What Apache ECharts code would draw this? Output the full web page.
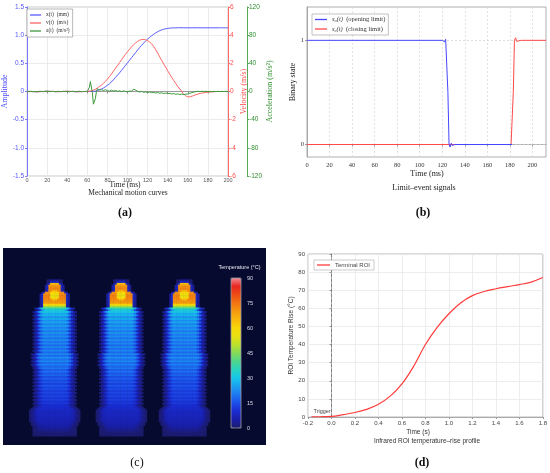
<!DOCTYPE html>
<html>
<head>
<meta charset="utf-8">
<title>Switching diagnostics</title>
<script src="https://cdn.jsdelivr.net/npm/echarts@6.0.0/dist/echarts.min.js"></script>
<style>
  html, body { margin: 0; padding: 0; background: #fff; }
  #chart { width: 550px; height: 473px; }
</style>
</head>
<body>
<div id="chart"></div>
<script>
const SERIF = '"Liberation Serif", "DejaVu Serif", serif';
const SANS = '"Liberation Sans", Arial, sans-serif';

// (a) mechanical motion curves
const dispTime = [0, 10, 20, 30, 40, 50, 60, 64, 66, 68, 70, 72, 74, 76, 78, 80, 84, 88, 92, 96, 100, 104, 108, 112, 116, 120, 124, 128, 132, 136, 140, 144, 148, 152, 160, 170, 180, 190, 200];
const dispMm = [0.003, -0.004, 0.004, -0.003, 0.003, -0.004, 0.002, 0, 0.002, 0.008, 0.018, 0.03, 0.045, 0.062, 0.085, 0.11, 0.17, 0.25, 0.33, 0.42, 0.51, 0.6, 0.69, 0.78, 0.86, 0.93, 0.99, 1.04, 1.08, 1.105, 1.12, 1.128, 1.13, 1.132, 1.13, 1.131, 1.13, 1.131, 1.13];

const velTime = [0, 10, 20, 30, 40, 50, 60, 62, 64, 66, 68, 70, 72, 74, 76, 78, 80, 84, 88, 92, 96, 100, 104, 108, 112, 115, 118, 122, 126, 130, 134, 138, 142, 146, 150, 154, 157, 160, 163, 166, 170, 175, 180, 185, 190, 200];
const velMs = [0.01, -0.015, 0.015, -0.01, 0.012, -0.012, 0.005, 0.02, 0.05, 0.1, 0.16, 0.25, 0.35, 0.46, 0.58, 0.72, 0.88, 1.25, 1.65, 2.05, 2.45, 2.83, 3.17, 3.45, 3.64, 3.7, 3.67, 3.52, 3.2, 2.72, 2.2, 1.72, 1.22, 0.78, 0.36, 0.0, -0.26, -0.38, -0.36, -0.28, -0.18, -0.1, -0.05, -0.02, 0, 0];

const accTime = [0, 2, 4, 6, 8, 10, 12, 14, 16, 18, 20, 22, 24, 26, 28, 30, 32, 34, 36, 38, 40, 42, 44, 46, 48, 50, 52, 54, 56, 58, 60,
  61, 62, 63, 64, 65, 66, 67, 68, 69, 70, 71, 72, 73, 74,
  76, 78, 80, 82, 84, 86, 88, 90, 92, 94, 96, 98, 100, 102, 104, 106, 107, 108,
  110, 112, 114, 116, 118, 120, 122, 124, 126, 128, 130, 132, 134, 136, 138, 140, 142, 144, 146, 148,
  150, 152, 154, 156, 158, 160, 162, 164, 166, 168, 170, 172, 174, 176, 178, 180, 182, 184, 186, 188, 190, 192, 194, 196, 198, 200];
const accVal = [0.2, -0.3, 0.4, -0.2, 0.1, -0.4, 0.3, 0.2, -0.3, 0.1, 0.4, -0.2, -0.1, 0.3, -0.4, 0.2, 0.1, -0.3, 0.3, -0.1, 0.2, -0.4, 0.1, 0.3, -0.2, 0.0, 0.4, -0.3, 0.1, -0.1, 0.2,
  1, 6, 14, 12, -2, -18, -20, -10, 0, 4, 3.5, 2, 3, 2.5,
  1.5, 2.5, 1.2, 0.5, 1.8, 0.6, 1.4, 0.2, 1.1, -0.2, 0.8, 0.1, -0.4, 0.6, 0.2, 3.5, 5.5, 2,
  0.3, -0.8, 0.2, -1.2, -0.5, -1.5, -0.7, -1.8, -1.1, -2.2, -1.4, -2.5, -1.8, -2.9, -2.2, -3.1, -2.6, -3.5, -3, -4,
  -3.4, -4.3, -3.6, -4.4, -3.8, -3.6, -2.5, -1.6, -0.8, -0.2, 0.3, -0.2, 0.4, -0.1, 0.3, -0.2, 0.2, -0.3, 0.3, -0.1, 0.2, -0.2, 0.3, -0.1, 0.2, 0];

// (b) limit-event signals
const openTime = [0, 120, 121, 122, 123, 124, 125, 126, 127, 128, 129, 130, 131, 182];
const openState = [1, 1, 1.01, 0.985, 1.01, 1, 0.5, 0, -0.025, 0.012, -0.01, 0.004, 0, 0];
const closeTime = [0, 181, 182, 183, 184, 185, 186, 187, 188, 189, 190, 212];
const closeState = [0, 0, 0.01, 0.5, 1, 1.025, 0.99, 1.008, 0.996, 1.003, 1, 1];

// (c) thermal image, in image cells (150 x 112)
const imgCols = 150, imgRows = 112;
const insulatorCols = [29, 67, 103];
const capRows = [[20, 2.5, 64], [21, 3, 70], [22, 3, 72], [23, 3, 72], [24, 3, 72], [25, 5.5, 71], [26, 6.5, 72], [27, 6.5, 73],
  [28, 6.5, 73], [29, 6.5, 72], [30, 6.5, 71], [31, 6.5, 68], [32, 6.5, 60], [33, 6.5, 47]];
const capCore = [[24, 1, 66], [25, 2, 60], [26, 2.5, 57], [27, 2.5, 56], [28, 2, 58], [29, 1, 64]];
const shedTemps = [37, 31, 28, 27, 26, 25, 24, 24, 23, 23, 22, 22, 22, 22, 23, 22, 21, 20, 19, 18, 17, 16, 16, 15, 14, 14, 13, 12];
const shedHalfWidths = [7.5, 8, 8, 8, 8, 8, 8, 8, 8, 8, 8, 8.5, 8.5, 9, 9.5, 9.5, 9, 8.5, 8.5, 8.5, 8, 8, 8, 8, 8, 8, 8, 8];
const baseRows = [[90, 8.5, 10], [91, 9.5, 9], [92, 10, 8.5], [93, 10, 8], [94, 10, 8], [95, 10, 7.5], [96, 10, 7], [97, 10, 7],
  [98, 10, 6.5], [99, 9.5, 6], [100, 9, 5.5], [101, 8.5, 5], [102, 8, 4]];
const edgeFade = [0.72, 0.42, 0.2, 0.08];
const capFade = [0.12, 0.05];
const gapShade = 0.84;
const rimShade = 0.88;
const tempTicks = [0, 90, 15];
const thermalColors = ['#1c1c6c', '#1a1fa8', '#1a2cd0', '#1c4ee8', '#1e78f2', '#1aa0f0', '#16c6ea', '#28d4c0', '#4ed68c', '#84da58',
  '#bce02a', '#e8e012', '#f8d808', '#f8b80c', '#f69a10', '#f27412', '#ee4c16', '#e8261e', '#f28a94'];

// (d) infrared ROI temperature rise
const roiTime = [-0.17, -0.1, 0, 0.1, 0.2, 0.3, 0.4, 0.5, 0.6, 0.7, 0.8, 0.9, 1.0, 1.1, 1.2, 1.3, 1.4, 1.5, 1.6, 1.7, 1.8];
const roiRise = [0.1, 0.15, 0.3, 1.3, 2.5, 4.2, 7, 11.5, 18.3, 28, 40, 49.5, 57, 63, 67, 69.3, 70.8, 72, 73.1, 74.5, 77];

const zip = (xs, ys) => xs.map((x, i) => [x, ys[i]]);

function buildThermal() {
  const img = [];
  for (let r = 0; r < imgRows; r++) img.push(new Array(imgCols).fill(null));
  const put = (c, r, v, force) => {
    if (c < 0 || c >= imgCols || r < 0 || r >= imgRows) return;
    if (force || img[r][c] === null || v > img[r][c]) img[r][c] = v;
  };
  // one image row of an insulator: flat core, shaded rim, faded halo
  const span = (cx, r, hw, t, fade, rim, force) => {
    const reach = Math.ceil(hw) + fade.length;
    for (let dx = -reach; dx <= reach; dx++) {
      const out = Math.abs(dx) - hw;
      if (out <= -1) put(cx + dx, r, t, force);
      else if (out <= 0) put(cx + dx, r, t * rim, force);
      else if (!force) {
        const k = Math.ceil(out) - 1;
        if (k < fade.length) put(cx + dx, r, t * fade[k]);
      }
    }
  };
  insulatorCols.forEach(cx => {
    capRows.forEach(([r, hw, t]) => span(cx, r, hw, t, capFade, 1));
    capFade.forEach((f, k) => span(cx, capRows[0][0] - k - 1, capRows[0][1], capRows[0][2] * f, capFade, 1));
    shedTemps.forEach((t, i) => {
      const r = 34 + 2 * i;
      span(cx, r, shedHalfWidths[i], t, edgeFade, rimShade);
      span(cx, r + 1, shedHalfWidths[i] - 1, t * gapShade, edgeFade, rimShade);
    });
    baseRows.forEach(([r, hw, t]) => span(cx, r, hw, t, edgeFade, rimShade));
    const last = baseRows[baseRows.length - 1];
    edgeFade.forEach((f, k) => span(cx, last[0] + k + 1, last[1], last[2] * f, edgeFade, rimShade));
    capCore.forEach(([r, hw, t]) => span(cx, r, hw, t, capFade, 1, true));
  });
  const cells = [];
  for (let r = 0; r < imgRows; r++)
    for (let c = 0; c < imgCols; c++)
      if (img[r][c] !== null) cells.push([c, r, img[r][c]]);
  return cells;
}

const idx = n => Array.from({ length: n }, (_, i) => i);

const plainLine = (color, width) => ({ type: 'line', symbol: 'none', lineStyle: { color, width }, itemStyle: { color } });

const option = {
  animation: false,
  backgroundColor: '#fff',
  grid: [
    { left: 23, top: 7, width: 205, height: 169, show: true, borderColor: '#bbb', borderWidth: 0.8 },
    { left: 307, top: 7, width: 239, height: 150, show: true, borderColor: '#999', borderWidth: 0.8 },
    { left: 3, top: 248, width: 263, height: 197 },
    { left: 231, top: 278, width: 10, height: 150, show: true, z: 3, backgroundColor: 'transparent', borderColor: '#9a9aaa', borderWidth: 0.8 },
    { left: 308, top: 254, width: 236, height: 163, show: true, borderColor: '#aaa', borderWidth: 0.8 }
  ],
  xAxis: [
    { gridIndex: 0, type: 'value', min: 0, max: 200, interval: 20,
      axisLine: { show: true, lineStyle: { color: '#888', width: 0.8 } },
      axisTick: { show: true, length: 2, lineStyle: { color: '#888' } },
      axisLabel: { color: '#555', fontSize: 5.5, fontFamily: SANS, margin: 1.5 },
      splitLine: { show: true, lineStyle: { color: '#e6e6e6', width: 0.8 } } },
    { gridIndex: 1, type: 'value', min: 0, max: 212, interval: 20,
      axisLine: { show: true, lineStyle: { color: '#999', width: 0.8 } },
      axisTick: { show: true, length: 2, lineStyle: { color: '#999' } },
      axisLabel: { color: '#333', fontSize: 6.5, fontFamily: SERIF, margin: 5, showMaxLabel: false },
      splitLine: { show: true, lineStyle: { color: '#d8d8d8', width: 0.7, type: [2, 2] } } },
    { gridIndex: 2, type: 'category', data: idx(imgCols), show: false },
    { gridIndex: 3, type: 'value', show: false, min: 0, max: 1 },
    { gridIndex: 4, type: 'value', min: -0.2, max: 1.8, interval: 0.2,
      axisLine: { show: true, lineStyle: { color: '#999', width: 0.8 } },
      axisTick: { show: true, length: 2, lineStyle: { color: '#999' } },
      axisLabel: { color: '#444', fontSize: 6, fontFamily: SANS, margin: 3, formatter: v => v.toFixed(1) },
      splitLine: { show: true, lineStyle: { color: '#e8e8e8', width: 0.8 } } }
  ],
  yAxis: [
    { gridIndex: 0, type: 'value', position: 'left', min: -1.5, max: 1.5, interval: 0.5,
      name: 'Amplitude', nameLocation: 'middle', nameGap: 13,
      nameTextStyle: { color: '#4b4bff', fontFamily: SERIF, fontSize: 8 },
      axisLine: { show: true, lineStyle: { color: '#7878ff', width: 1 } },
      axisTick: { show: true, length: 2, lineStyle: { color: '#7878ff' } },
      axisLabel: { color: '#5555ff', fontSize: 6.5, fontFamily: SANS, margin: 3, formatter: v => (v === 0 ? '0' : v.toFixed(1)) },
      splitLine: { show: true, lineStyle: { color: '#e6e6e6', width: 0.8 } } },
    { gridIndex: 0, type: 'value', position: 'right', min: -6, max: 6, interval: 2,
      name: 'Velocity (m/s)', nameLocation: 'middle', nameGap: 9,
      nameTextStyle: { color: '#ff4a4a', fontFamily: SERIF, fontSize: 8 },
      axisLine: { show: true, lineStyle: { color: '#ff6a6a', width: 1 } },
      axisTick: { show: true, length: 2, lineStyle: { color: '#ff6a6a' } },
      axisLabel: { color: '#ff4a4a', fontSize: 6.5, fontFamily: SANS, margin: 2 },
      splitLine: { show: false } },
    { gridIndex: 0, type: 'value', position: 'right', offset: 19, min: -120, max: 120, interval: 40,
      name: 'Acceleration (m/s²)', nameLocation: 'middle', nameGap: 13,
      nameTextStyle: { color: '#2f8f2f', fontFamily: SERIF, fontSize: 8 },
      axisLine: { show: true, lineStyle: { color: '#55a855', width: 1 } },
      axisTick: { show: true, length: 2, lineStyle: { color: '#55a855' } },
      axisLabel: { color: '#2f8f2f', fontSize: 6.5, fontFamily: SANS, margin: 2 },
      splitLine: { show: false } },
    { gridIndex: 1, type: 'value', min: -0.12, max: 1.32,
      name: 'Binary state', nameLocation: 'middle', nameGap: 9,
      nameTextStyle: { color: '#222', fontFamily: SERIF, fontSize: 8 },
      axisLine: { show: true, lineStyle: { color: '#999', width: 0.8 } },
      axisTick: { show: true, length: 2, customValues: [0, 1], lineStyle: { color: '#999' } },
      axisLabel: { color: '#333', fontSize: 6.5, fontFamily: SERIF, margin: 3, customValues: [0, 1] },
      splitLine: { show: false } },
    { gridIndex: 2, type: 'category', data: idx(imgRows), inverse: true, show: false },
    { gridIndex: 3, type: 'value', position: 'right', min: tempTicks[0], max: tempTicks[1], interval: tempTicks[2],
      axisLine: { show: false }, axisTick: { show: false }, splitLine: { show: false },
      axisLabel: { color: '#dde', fontSize: 5.5, fontFamily: SANS, margin: 6 } },
    { gridIndex: 4, type: 'value', min: 0, max: 90, interval: 10,
      name: 'ROI Temperature Rise (°C)', nameLocation: 'middle', nameGap: 10,
      nameTextStyle: { color: '#333', fontFamily: SANS, fontSize: 6.5 },
      axisLine: { show: true, lineStyle: { color: '#999', width: 0.8 } },
      axisTick: { show: true, length: 2, lineStyle: { color: '#999' } },
      axisLabel: { color: '#444', fontSize: 6, fontFamily: SANS, margin: 3 },
      splitLine: { show: true, lineStyle: { color: '#e8e8e8', width: 0.8 } } }
  ],
  legend: [
    { left: 27, top: 9, orient: 'vertical', padding: [3, 3, 3, 3], itemGap: 2, itemWidth: 11, itemHeight: 1.3, icon: 'rect',
      backgroundColor: '#fff', borderColor: '#888', borderWidth: 0.6,
      textStyle: { fontFamily: SERIF, fontSize: 5.5, color: '#333' },
      data: ['x(t)  (mm)', 'v(t)  (m/s)', 'a(t)  (m/s²)'] },
    { left: 312, top: 14, orient: 'vertical', padding: [2, 3, 2, 3], itemGap: 2, itemWidth: 12, itemHeight: 1.3, icon: 'rect',
      backgroundColor: '#fff', borderColor: '#999', borderWidth: 0.6,
      data: ['so', 'sc'],
      formatter: n => (n === 'so' ? '{i|s}{sub|o}{i|(t)}  (opening limit)' : '{i|s}{sub|c}{i|(t)}  (closing limit)'),
      textStyle: { fontFamily: SERIF, fontSize: 6.5, color: '#333',
        rich: { i: { fontFamily: SERIF, fontSize: 6.5, fontStyle: 'italic', color: '#333' },
                sub: { fontFamily: SERIF, fontSize: 4.5, fontStyle: 'italic', color: '#333', padding: [3, 0, 0, 0] } } } },
    { left: 314, top: 260, orient: 'horizontal', padding: [2, 4, 2, 3], itemWidth: 13, itemHeight: 1.3, icon: 'rect',
      backgroundColor: '#fff', borderColor: '#aaa', borderWidth: 0.6,
      textStyle: { fontFamily: SANS, fontSize: 6, color: '#444' },
      data: ['Terminal ROI'] }
  ],
  visualMap: {
    type: 'continuous', seriesIndex: 5, min: tempTicks[0], max: tempTicks[1],
    left: 231, top: 278, itemWidth: 10, itemHeight: 150, padding: 0, z: 1,
    calculable: false, hoverLink: false,
    inRange: { color: thermalColors }
  },
  graphic: [
    { type: 'rect', z: -1, shape: { x: 3, y: 248, width: 263, height: 197 }, style: { fill: '#050a2e' } },
    { type: 'text', x: 125, y: 213, style: { text: '(a)', font: 'bold 12px ' + SERIF, fill: '#111', align: 'center', verticalAlign: 'middle' } },
    { type: 'text', x: 125, y: 185.5, style: { text: 'Time (ms)', font: '7.5px ' + SERIF, fill: '#222', align: 'center', verticalAlign: 'middle' } },
    { type: 'text', x: 128, y: 193, style: { text: 'Mechanical motion curves', font: '7.5px ' + SERIF, fill: '#222', align: 'center', verticalAlign: 'middle' } },
    { type: 'text', x: 423, y: 213, style: { text: '(b)', font: 'bold 12px ' + SERIF, fill: '#111', align: 'center', verticalAlign: 'middle' } },
    { type: 'text', x: 427, y: 174, style: { text: 'Time (ms)', font: '8px ' + SERIF, fill: '#222', align: 'center', verticalAlign: 'middle' } },
    { type: 'text', x: 424, y: 187.5, style: { text: 'Limit–event signals', font: '8px ' + SERIF, fill: '#222', align: 'center', verticalAlign: 'middle' } },
    { type: 'text', x: 137, y: 463, style: { text: '(c)', font: '12px ' + SERIF, fill: '#111', align: 'center', verticalAlign: 'middle' } },
    { type: 'text', x: 239.5, y: 267.5, style: { text: 'Temperature (°C)', font: '5.5px ' + SANS, fill: '#e8e8ee', align: 'center', verticalAlign: 'middle' } },
    { type: 'text', x: 422, y: 463, style: { text: '(d)', font: 'bold 12px ' + SERIF, fill: '#111', align: 'center', verticalAlign: 'middle' } },
    { type: 'text', x: 418, y: 432, style: { text: 'Time (s)', font: '6.5px ' + SANS, fill: '#333', align: 'center', verticalAlign: 'middle' } },
    { type: 'text', x: 427, y: 441, style: { text: 'Infrared ROI temperature–rise profile', font: '6.5px ' + SANS, fill: '#333', align: 'center', verticalAlign: 'middle' } }
  ],
  series: [
    Object.assign(plainLine('#5a5aff', 1), { name: 'x(t)  (mm)', xAxisIndex: 0, yAxisIndex: 0, smooth: 0.3, data: zip(dispTime, dispMm) }),
    Object.assign(plainLine('#ff6464', 1), { name: 'v(t)  (m/s)', xAxisIndex: 0, yAxisIndex: 1, smooth: 0.3, data: zip(velTime, velMs) }),
    Object.assign(plainLine('#3c9a3c', 1), { name: 'a(t)  (m/s²)', xAxisIndex: 0, yAxisIndex: 2, data: zip(accTime, accVal) }),
    Object.assign(plainLine('#ff4a4a', 1), { name: 'sc', xAxisIndex: 1, yAxisIndex: 3, z: 2, data: zip(closeTime, closeState),
      markLine: { silent: true, symbol: 'none', z: 1, label: { show: false },
        lineStyle: { color: '#cfcfcf', width: 0.7, type: [2, 2] }, data: [{ yAxis: 0 }, { yAxis: 1 }] } }),
    Object.assign(plainLine('#4646ff', 1), { name: 'so', xAxisIndex: 1, yAxisIndex: 3, z: 3, data: zip(openTime, openState) }),
    { type: 'heatmap', xAxisIndex: 2, yAxisIndex: 4, data: buildThermal(), progressive: 0, silent: true,
      itemStyle: { borderWidth: 0 }, emphasis: { disabled: true } },
    Object.assign(plainLine('#ff3b3b', 1.2), { name: 'Terminal ROI', xAxisIndex: 4, yAxisIndex: 6, smooth: 0.4, data: zip(roiTime, roiRise),
      markLine: { silent: true, symbol: 'none', z: 1, label: { show: false },
        lineStyle: { color: '#777', width: 0.8, type: [3, 2] }, data: [{ xAxis: 0 }] },
      markPoint: { silent: true, symbol: 'circle', symbolSize: 0,
        label: { show: true, formatter: 'Trigger', fontFamily: SANS, fontSize: 5.5, color: '#444' },
        data: [{ coord: [-0.08, 2.8] }] } })
  ]
};

const chart = echarts.init(document.getElementById('chart'));
chart.setOption(option);
</script>
</body>
</html>
